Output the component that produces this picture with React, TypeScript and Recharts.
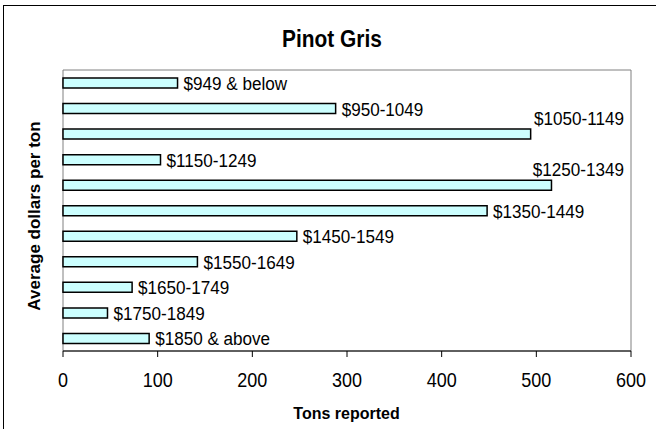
import { BarChart, Bar, XAxis, YAxis, LabelList, ReferenceArea } from 'recharts';

// price bands (dollars per ton) and tons reported for each
const priceBands = [
  '$949 & below',
  '$950-1049',
  '$1050-1149',
  '$1150-1249',
  '$1250-1349',
  '$1350-1449',
  '$1450-1549',
  '$1550-1649',
  '$1650-1749',
  '$1750-1849',
  '$1850 & above',
];
const tonsReported = [121, 288, 494, 103, 516, 448, 247, 142, 73, 47, 91];
const xTicks = [0, 100, 200, 300, 400, 500, 600];

const FONT = '"Liberation Sans", Arial, sans-serif';
const W = 656;
const H = 429;
const MARGIN = { top: 70, right: 25, left: 63, bottom: 0 };

const chartData = priceBands.map((name, i) => ({ name, tons: tonsReported[i] }));

// text in the original is a bit condensed, so squeeze it horizontally
const BandLabel = (props: any) => {
  const { x, y, width, height, value, index } = props;
  const above = tonsReported[index] > 470;
  if (above) {
    // long bars: label sits over the bar, pushed inside the plot's right edge
    const lx = W - MARGIN.right - 7;
    const ly = Number(y) - 4;
    return (
      <text transform={`translate(${lx},${ly}) scale(0.9,1)`} textAnchor="end" fontSize={19} fontFamily={FONT} fill="#000">
        {value}
      </text>
    );
  }
  const lx = Number(x) + Number(width) + 6;
  const ly = Number(y) + Number(height) / 2 + 7;
  return (
    <text transform={`translate(${lx},${ly}) scale(0.9,1)`} fontSize={19} fontFamily={FONT} fill="#000">
      {value}
    </text>
  );
};

const TickLabel = (props: any) => {
  const { x, y, payload } = props;
  return (
    <text transform={`translate(${x},${Number(y) + 14.3}) scale(0.9,1)`} textAnchor="middle" fontSize={20} fontFamily={FONT} fill="#000">
      {payload.value}
    </text>
  );
};

export default function App() {
  return (
    <div
      style={{
        position: 'absolute',
        left: 0,
        top: 0,
        width: W,
        height: H,
        overflow: 'hidden',
        background: '#fff',
        fontFamily: FONT,
      }}
    >
      <div
        style={{
          position: 'absolute',
          left: 3,
          top: 5,
          width: 700,
          height: 500,
          border: '1px solid #000',
        }}
      />
      <div
        style={{
          position: 'absolute',
          left: 0,
          top: 27,
          width: 664,
          textAlign: 'center',
          fontSize: 24,
          lineHeight: '24px',
          fontWeight: 'bold',
          transform: 'scaleX(0.87)',
        }}
      >
        Pinot Gris
      </div>
      <BarChart
        width={W}
        height={H}
        data={chartData}
        layout="vertical"
        margin={MARGIN}
        barCategoryGap={0}
        style={{ position: 'absolute', left: 0, top: 0 }}
      >
        <XAxis
          type="number"
          domain={[0, 600]}
          ticks={xTicks}
          height={78}
          tickSize={6}
          tickMargin={16}
          stroke="#000"
          tick={<TickLabel />}
          axisLine={{ stroke: '#000' }}
          tickLine={{ stroke: '#000' }}
        />
        <YAxis type="category" dataKey="name" hide />
        <ReferenceArea x1={0} x2={600} fill="none" stroke="#808080" strokeWidth={1} ifOverflow="visible" />
        <Bar
          dataKey="tons"
          barSize={10}
          fill="#CCFFFF"
          stroke="#000"
          strokeWidth={1.5}
          isAnimationActive={false}
        >
          <LabelList dataKey="name" content={<BandLabel />} />
        </Bar>
      </BarChart>
      <div
        style={{
          position: 'absolute',
          left: 34,
          top: 216,
          transform: 'translate(-50%, -50%) rotate(-90deg)',
          whiteSpace: 'nowrap',
          fontSize: 17,
          lineHeight: '17px',
          fontWeight: 'bold',
        }}
      >
        Average dollars per ton
      </div>
      <div
        style={{
          position: 'absolute',
          left: 0,
          top: 406,
          width: 693,
          textAlign: 'center',
          fontSize: 16,
          lineHeight: '16px',
          fontWeight: 'bold',
        }}
      >
        Tons reported
      </div>
    </div>
  );
}
